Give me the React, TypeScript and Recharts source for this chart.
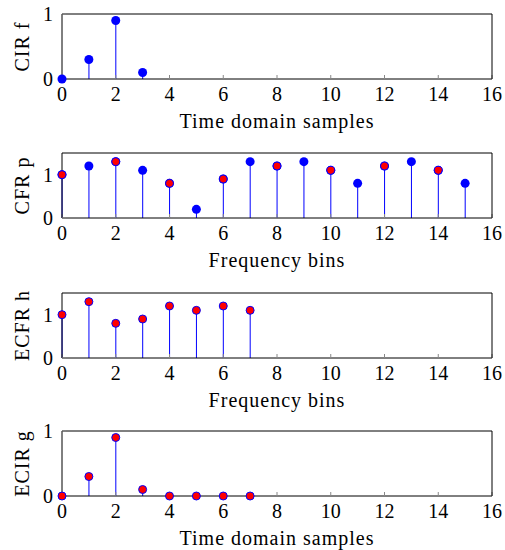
import React from 'react';
import { ComposedChart, XAxis, YAxis, Bar, Scatter } from 'recharts';

const ticksX = [0, 2, 4, 6, 8, 10, 12, 14, 16];
const ticksY = [0, 1];
const cirF = [0, 0.3, 0.9, 0.1];
const cfrP = [1.0, 1.2, 1.3, 1.1, 0.8, 0.2, 0.9, 1.3, 1.2, 1.3, 1.1, 0.8, 1.2, 1.3, 1.1, 0.8];
const ecfrH = [1.0, 1.3, 0.8, 0.9, 1.2, 1.1, 1.2, 1.1];
const ecirG = [0, 0.3, 0.9, 0.1, 0, 0, 0, 0];

const BLUE = '#0000ff';
const RED = '#ff0000';
const FONT = '"Liberation Serif", "Times New Roman", serif';

const toPts = (arr: number[], step = 1) => arr.map((v, i) => ({ x: i * step, v }));

const BlueDot = (p: any) => <circle cx={p.cx} cy={p.cy} r={4.5} fill={BLUE} />;
const RedDot = (p: any) => <circle cx={p.cx} cy={p.cy} r={4} fill={RED} stroke={BLUE} strokeWidth={1} />;

type PanelProps = {
  top: number;
  yLabel: string;
  xLabel: string;
  yMax: number;
  stems: { x: number; v: number }[];
  blue?: { x: number; v: number }[];
  red?: { x: number; v: number }[];
};

const tickStyle = { fontSize: 20, fontFamily: FONT, fill: '#000' };

const css = `
svg text, svg tspan {
  font-family: "Liberation Serif", serif !important; font-size: 20px !important; fill: #000 !important;
}
.recharts-label, .recharts-label tspan {
  letter-spacing: 1px !important;
}
`;

function Panel({ top, yLabel, xLabel, yMax, stems, blue, red }: PanelProps) {
  return (
    <div style={{ position: 'absolute', left: 0, top }}>
      <ComposedChart width={505} height={137} data={stems} margin={{ top: 13, right: 12, bottom: 0, left: 0 }}>
        <XAxis
          dataKey="x"
          type="number"
          domain={[0, 16]}
          ticks={ticksX}
          interval={0}
          height={58}
          tickSize={-4}
          tickMargin={11.5}
          axisLine={{ stroke: '#000', strokeWidth: 1 }}
          tickLine={{ stroke: '#888', strokeWidth: 1 }}
          tick={tickStyle}
          label={{ value: xLabel, position: 'insideBottom', offset: 8.7, fontSize: 20, fontFamily: FONT, fill: '#000' }}
        />
        <XAxis
          xAxisId="t"
          orientation="top"
          dataKey="x"
          type="number"
          domain={[0, 16]}
          ticks={ticksX}
          interval={0}
          height={1}
          tickSize={-4}
          axisLine={{ stroke: '#000', strokeWidth: 1 }}
          tickLine={{ stroke: '#888', strokeWidth: 1 }}
          tick={false}
        />
        <YAxis
          type="number"
          domain={[0, yMax]}
          ticks={ticksY}
          interval={0}
          width={62}
          tickSize={-4}
          tickMargin={13}
          axisLine={{ stroke: '#000', strokeWidth: 1 }}
          tickLine={{ stroke: '#888', strokeWidth: 1 }}
          tick={tickStyle}
          label={{ value: yLabel, angle: -90, position: 'insideLeft', offset: 22, textAnchor: 'middle', style: { textAnchor: 'middle' }, fontSize: 20, fontFamily: FONT, fill: '#000' }}
        />
        <YAxis
          yAxisId="r"
          orientation="right"
          type="number"
          domain={[0, yMax]}
          ticks={ticksY}
          interval={0}
          width={1}
          tickSize={-4}
          axisLine={{ stroke: '#000', strokeWidth: 1 }}
          tickLine={{ stroke: '#888', strokeWidth: 1 }}
          tick={false}
        />
        <Bar dataKey="v" fill={BLUE} barSize={1} isAnimationActive={false} />
        {blue && <Scatter data={blue} dataKey="v" shape={BlueDot} isAnimationActive={false} />}
        {red && <Scatter data={red} dataKey="v" shape={RedDot} isAnimationActive={false} />}
      </ComposedChart>
    </div>
  );
}

export default function App() {
  const f = toPts(cirF);
  const p = toPts(cfrP);
  const hOnP = toPts(ecfrH, 2);
  const h = toPts(ecfrH);
  const g = toPts(ecirG);
  return (
    <div style={{ position: 'absolute', left: 0, top: 0, width: 505, height: 550, overflow: 'hidden', background: '#fff', fontFamily: FONT }}>
      <style>{css}</style>
      <Panel top={0} yLabel="CIR f" xLabel="Time domain samples" yMax={1} stems={f} blue={f} />
      <Panel top={139} yLabel="CFR p" xLabel="Frequency bins" yMax={1.5} stems={p} blue={p} red={hOnP} />
      <Panel top={279} yLabel="ECFR h" xLabel="Frequency bins" yMax={1.5} stems={h} red={h} />
      <Panel top={417} yLabel="ECIR g" xLabel="Time domain samples" yMax={1} stems={g} red={g} />
    </div>
  );
}
